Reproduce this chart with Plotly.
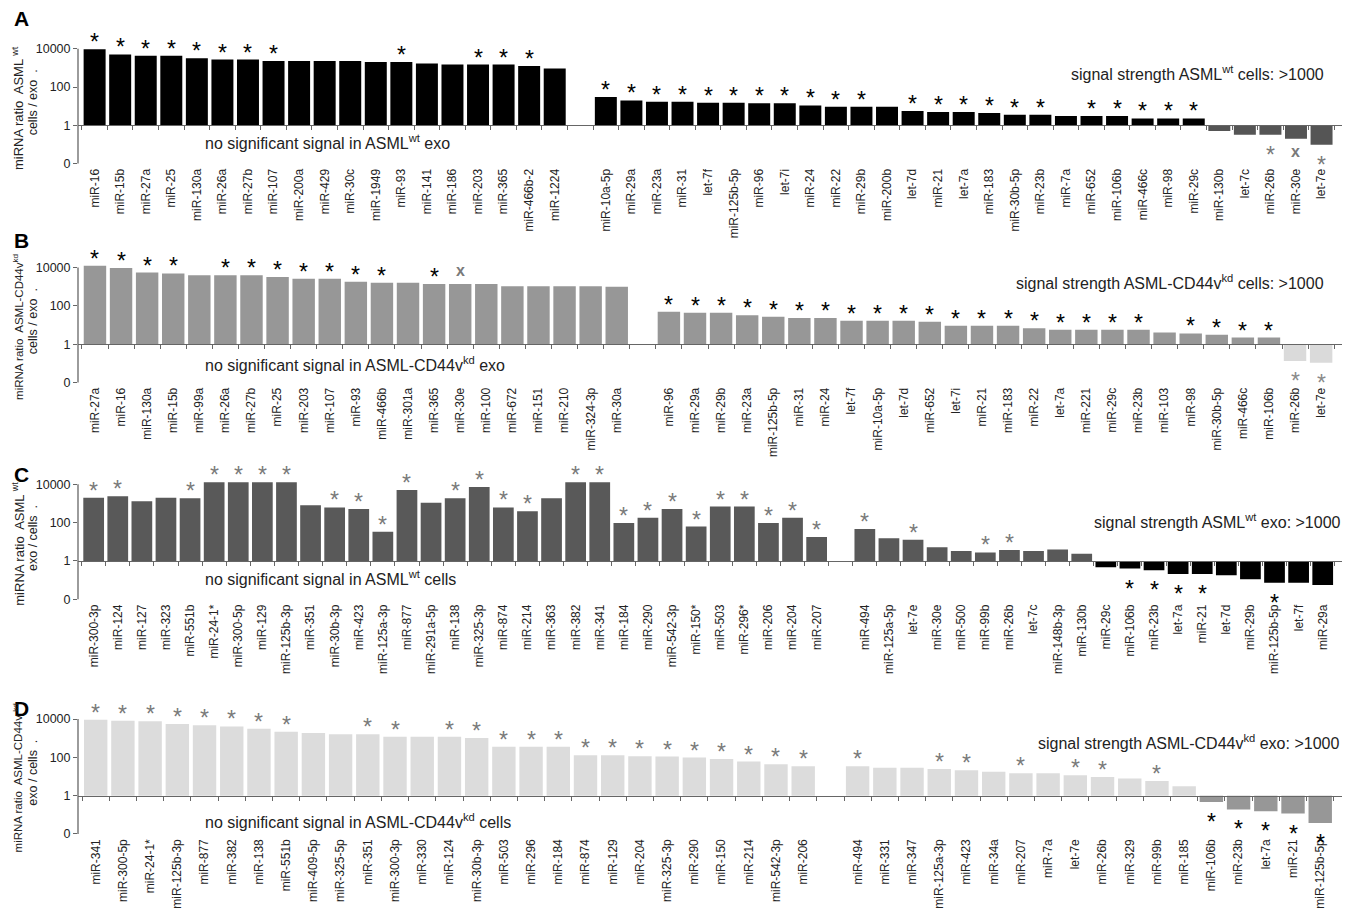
import numpy as np
import plotly.graph_objects as go

# ---------------- data: miRNA ratios (linear), marks per miRNA ----------------
# Panel A: ASML-wt cells / exo
A_left_labels = ["miR-16", "miR-15b", "miR-27a", "miR-25", "miR-130a", "miR-26a", "miR-27b",
                 "miR-107", "miR-200a", "miR-429", "miR-30c", "miR-1949", "miR-93", "miR-141",
                 "miR-186", "miR-203", "miR-365", "miR-466b-2", "miR-1224"]
A_left_ratio = [9300, 5000, 4300, 4300, 3200, 2700, 2700, 2300, 2300, 2300, 2300, 2000, 2000,
                1700, 1500, 1500, 1500, 1250, 930]
A_left_marks = ["*", "*", "*", "*", "*", "*", "*", "*", "", "", "", "", "*", "", "", "*", "*", "*", ""]
A_right_labels = ["miR-10a-5p", "miR-29a", "miR-23a", "miR-31", "let-7f", "miR-125b-5p", "miR-96",
                  "let-7i", "miR-24", "miR-22", "miR-29b", "miR-200b", "let-7d", "miR-21", "let-7a",
                  "miR-183", "miR-30b-5p", "miR-23b", "miR-7a", "miR-652", "miR-106b", "miR-466c",
                  "miR-98", "miR-29c", "miR-130b", "let-7c", "miR-26b", "miR-30e", "let-7e"]
A_right_ratio = [30, 20, 17, 17, 15, 15, 14, 14, 11, 9.3, 9.3, 9.3, 5.6, 5.0, 5.0, 4.4, 3.6, 3.6,
                 3.1, 3.1, 3.1, 2.3, 2.3, 2.3, 0.5, 0.32, 0.32, 0.2, 0.098]
A_right_marks = ["*", "*", "*", "*", "*", "*", "*", "*", "*", "*", "*", "", "*", "*", "*", "*", "*",
                 "*", "", "*", "*", "*", "*", "*", "", "", "*", "x", "*"]

# Panel B: ASML-CD44v-kd cells / exo
B_left_labels = ["miR-27a", "miR-16", "miR-130a", "miR-15b", "miR-99a", "miR-26a", "miR-27b",
                 "miR-25", "miR-203", "miR-107", "miR-93", "miR-466b", "miR-301a", "miR-365",
                 "miR-30e", "miR-100", "miR-672", "miR-151", "miR-210", "miR-324-3p", "miR-30a"]
B_left_ratio = [12300, 9500, 5500, 4900, 4000, 4000, 4000, 3200, 2600, 2600, 1800, 1600, 1600,
                1400, 1400, 1400, 1070, 1070, 1070, 1070, 1000]
B_left_marks = ["*", "*", "*", "*", "", "*", "*", "*", "*", "*", "*", "*", "", "*", "x", "", "", "",
                "", "", ""]
B_right_labels = ["miR-96", "miR-29a", "miR-29b", "miR-23a", "miR-125b-5p", "miR-31", "miR-24",
                  "let-7f", "miR-10a-5p", "let-7d", "miR-652", "let-7i", "miR-21", "miR-183",
                  "miR-22", "let-7a", "miR-221", "miR-29c", "miR-23b", "miR-103", "miR-98",
                  "miR-30b-5p", "miR-466c", "miR-106b", "miR-26b", "let-7e"]
B_right_ratio = [49, 43, 43, 32, 27, 23, 23, 16.6, 16.6, 16.6, 14.8, 9.1, 9.1, 9.1, 6.8, 5.6, 5.6,
                 5.6, 5.6, 4.1, 3.6, 3.1, 2.2, 2.2, 0.13, 0.107]
B_right_marks = ["*", "*", "*", "*", "*", "*", "*", "*", "*", "*", "*", "*", "*", "*", "*", "*", "*",
                 "*", "*", "", "*", "*", "*", "*", "*", "*"]

# Panel C: ASML-wt exo / cells
C_left_labels = ["miR-300-3p", "miR-124", "miR-127", "miR-323", "miR-551b", "miR-24-1*",
                 "miR-300-5p", "miR-129", "miR-125b-3p", "miR-351", "miR-30b-3p", "miR-423",
                 "miR-125a-3p", "miR-877", "miR-291a-5p", "miR-138", "miR-325-3p", "miR-874",
                 "miR-214", "miR-363", "miR-382", "miR-341", "miR-184", "miR-290", "miR-542-3p",
                 "miR-150*", "miR-503", "miR-296*", "miR-206", "miR-204", "miR-207"]
C_left_ratio = [2000, 2400, 1300, 2000, 1900, 13000, 13000, 13000, 13000, 800, 620, 510, 33, 5100,
                1100, 1900, 7200, 620, 390, 1900, 13000, 13000, 95, 180, 510, 62, 690, 690, 95,
                180, 18]
C_left_marks = ["*", "*", "", "", "*", "*", "*", "*", "*", "", "*", "*", "*", "*", "", "*", "*", "*",
                "*", "", "*", "*", "*", "*", "*", "*", "*", "*", "*", "*", "*"]
C_right_labels = ["miR-494", "miR-125a-5p", "let-7e", "miR-30e", "miR-500", "miR-99b", "miR-26b",
                  "let-7c", "miR-148b-3p", "miR-130b", "miR-29c", "miR-106b", "miR-23b", "let-7a",
                  "miR-21", "let-7d", "miR-29b", "miR-125b-5p", "let-7f", "miR-29a"]
C_right_ratio = [47, 15.5, 12.6, 5.2, 3.3, 2.8, 3.7, 3.3, 3.9, 2.4, 0.47, 0.40, 0.33, 0.21, 0.21,
                 0.18, 0.11, 0.072, 0.072, 0.055]
C_right_marks = ["*", "", "*", "", "", "*", "*", "", "", "", "", "*", "*", "*", "*", "", "", "*", "",
                 ""]

# Panel D: ASML-CD44v-kd exo / cells
D_left_labels = ["miR-341", "miR-300-5p", "miR-24-1*", "miR-125b-3p", "miR-877", "miR-382",
                 "miR-138", "miR-551b", "miR-409-5p", "miR-325-5p", "miR-351", "miR-300-3p",
                 "miR-330", "miR-124", "miR-30b-3p", "miR-503", "miR-296", "miR-184", "miR-874",
                 "miR-129", "miR-204", "miR-325-3p", "miR-290", "miR-150", "miR-214",
                 "miR-542-3p", "miR-206"]
D_left_ratio = [9100, 8100, 7600, 5600, 4800, 4100, 3100, 2200, 1900, 1600, 1600, 1200, 1200, 1200,
                1020, 360, 360, 360, 129, 129, 115, 110, 98, 83, 60, 44, 34]
D_left_marks = ["*", "*", "*", "*", "*", "*", "*", "*", "", "", "*", "*", "", "*", "*", "*", "*", "*",
                "*", "*", "*", "*", "*", "*", "*", "*", "*"]
D_right_labels = ["miR-494", "miR-331", "miR-347", "miR-125a-3p", "miR-423", "miR-34a", "miR-207",
                  "miR-7a", "let-7e", "miR-26b", "miR-329", "miR-99b", "miR-185", "miR-106b",
                  "miR-23b", "let-7a", "miR-21", "miR-125b-5p"]
D_right_ratio = [34, 29, 29, 25, 21, 18, 15, 15, 11.5, 9.3, 7.9, 5.8, 3.1, 0.47, 0.19, 0.155,
                 0.117, 0.037]
D_right_marks = ["*", "", "", "*", "*", "", "*", "", "*", "*", "", "*", "", "*", "*", "*", "*", "*"]

# y tick labels (the bottom "0" marks the floor of the scale)
tick_text = ["0", "1", "100", "10000"]

# ---------------- styling / layout ----------------
W, H = 1346, 922
FONT = "Liberation Sans, Arial, sans-serif"
PX_PER_DEC = 19.25
Y_MIN, Y_MAX = -2.1, 5.0
X0_PX, X1_PX = 78, 1342
TEXT_COL = "#222222"
X_MARK_COL = "#7a7a7a"

panels = [
    dict(letter="A", zero_px=126, letter_px=19,
         left=(A_left_labels, A_left_ratio, A_left_marks),
         right=(A_right_labels, A_right_ratio, A_right_marks),
         pos_color="#000000", neg_color="#555555", pos_mark="#000000", neg_mark="#7a7a7a",
         ytitle=("miRNA ratio  ASML <sup>wt</sup>", "cells / exo  ."), ysize=13,
         low_text="no significant signal in ASML<sup>wt</sup> exo", low_y=-0.85,
         high_text="signal strength ASML<sup>wt</sup> cells: >1000", high_xy=(1326, 2.75)),
    dict(letter="B", zero_px=346, letter_px=242,
         left=(B_left_labels, B_left_ratio, B_left_marks),
         right=(B_right_labels, B_right_ratio, B_right_marks),
         pos_color="#979797", neg_color="#dadada", pos_mark="#000000", neg_mark="#8a8a8a",
         ytitle=("miRNA ratio  ASML-CD44v<sup>kd</sup>", "cells / exo  ."), ysize=11.5,
         low_text="no significant signal in ASML-CD44v<sup>kd</sup> exo", low_y=-1.05,
         high_text="signal strength ASML-CD44v<sup>kd</sup> cells: >1000", high_xy=(1326, 3.27)),
    dict(letter="C", zero_px=564, letter_px=477,
         left=(C_left_labels, C_left_ratio, C_left_marks),
         right=(C_right_labels, C_right_ratio, C_right_marks),
         pos_color="#595959", neg_color="#000000", pos_mark="#7a7a7a", neg_mark="#000000",
         ytitle=("miRNA ratio  ASML <sup>wt</sup>", "exo / cells  ."), ysize=13,
         low_text="no significant signal in ASML<sup>wt</sup> cells", low_y=-0.9,
         high_text="signal strength ASML<sup>wt</sup> exo: >1000", high_xy=(1343, 2.1)),
    dict(letter="D", zero_px=800, letter_px=712,
         left=(D_left_labels, D_left_ratio, D_left_marks),
         right=(D_right_labels, D_right_ratio, D_right_marks),
         pos_color="#dcdcdc", neg_color="#979797", pos_mark="#7a7a7a", neg_mark="#000000",
         ytitle=("miRNA ratio  ASML-CD44v <sup>kd</sup>", "exo / cells  ."), ysize=11.5,
         low_text="no significant signal in ASML-CD44v<sup>kd</sup> cells", low_y=-1.3,
         high_text="signal strength ASML-CD44v<sup>kd</sup> exo: >1000", high_xy=(1341, 2.8)),
]

fig = go.Figure()
layout = dict(
    width=W, height=H, margin=dict(l=0, r=0, t=0, b=0),
    paper_bgcolor="white", plot_bgcolor="white",
    showlegend=False, bargap=0.14,
    font=dict(family=FONT, color="#111111"),
)
annotations = []
shapes = []

GAP = " "  # empty slot separating the two groups


def ax_id(letter, k):
    return letter if k == 1 else f"{letter}{k}"


# pixel offsets of the significance marks from the bar end (text-box centre)
STAR_SHIFT_UP, STAR_SHIFT_DOWN = 7, -20
X_SHIFT = 13

for i, p in enumerate(panels):
    n = i + 1
    xa, ya = ax_id("x", n), ax_id("y", n)
    xb = ax_id("x", n + 4)  # overlay axis that draws the ratio = 1 baseline
    xkey, ykey = ax_id("xaxis", n), ax_id("yaxis", n)
    xbkey = ax_id("xaxis", n + 4)
    ll, lr, lm = p["left"]
    rl, rr, rm = p["right"]
    cats = list(ll) + [GAP] + list(rl)
    ratios = list(lr) + list(rr)
    labels = list(ll) + list(rl)
    marks = list(lm) + list(rm)
    logv = np.log10(np.array(ratios, dtype=float))

    colors = [p["pos_color"] if v >= 0 else p["neg_color"] for v in logv]
    fig.add_trace(go.Bar(x=labels, y=logv, base=0, marker=dict(color=colors, line=dict(width=0)),
                         xaxis=xa, yaxis=ya, hoverinfo="x+text",
                         hovertext=[f"{r:g}" for r in ratios]))

    # significance marks anchored at each bar's end: above positive, below negative bars
    for lab, v, m in zip(labels, logv, marks):
        if not m:
            continue
        up = v >= 0
        if m == "*":
            txt = "*"
            col = p["pos_mark"] if up else p["neg_mark"]
            size = 23
            shift = STAR_SHIFT_UP if up else STAR_SHIFT_DOWN
        else:
            txt = "<b>x</b>"
            col = X_MARK_COL
            size = 16
            shift = X_SHIFT if up else -X_SHIFT
        annotations.append(dict(text=txt, xref=xa, yref=ya, x=lab, y=float(v), yshift=shift,
                                xanchor="center", yanchor="middle", showarrow=False,
                                font=dict(family=FONT, size=size, color=col)))

    # invisible trace to give the baseline axis its categories
    fig.add_trace(go.Scatter(x=cats, y=[0] * len(cats), mode="markers",
                             marker=dict(opacity=0, size=1), xaxis=xb, yaxis=ya,
                             hoverinfo="skip"))

    z = p["zero_px"]
    top_px = z - Y_MAX * PX_PER_DEC
    bot_px = z - Y_MIN * PX_PER_DEC
    dom_y = [1 - bot_px / H, 1 - top_px / H]
    dom_x = [X0_PX / W, X1_PX / W]
    xr = [-0.65, len(cats) - 0.2]
    zero_paper = 1 - z / H

    layout[xkey] = dict(
        domain=dom_x, anchor=ya, type="category", categoryorder="array", categoryarray=cats,
        range=xr, tickangle=-90, ticks="", showline=False, showgrid=False, zeroline=False,
        tickfont=dict(family=FONT, size=12, color=TEXT_COL), fixedrange=True)
    layout[xbkey] = dict(
        overlaying=xa, anchor="free", position=zero_paper, type="category",
        categoryorder="array", categoryarray=cats, range=xr, showline=True,
        linecolor="#666666", linewidth=1.3, ticks="outside", ticklen=4, tickcolor="#666666",
        tickson="boundaries", showticklabels=False, showgrid=False, zeroline=False,
        fixedrange=True)
    layout[ykey] = dict(
        domain=dom_y, anchor=xa, range=[Y_MIN, Y_MAX], tickvals=[-2, 0, 2, 4],
        ticktext=tick_text, ticks="outside", ticklen=4, tickcolor="#666666",
        tickfont=dict(family=FONT, size=12.5, color=TEXT_COL), showline=False,
        showgrid=False, zeroline=False, fixedrange=True)

    # vertical axis line from the floor to the 10000 tick
    shapes.append(dict(type="line", xref=f"{xa} domain", yref=ya, x0=0, x1=0, y0=-2, y1=4,
                       line=dict(color="#666666", width=1.3)))

    # panel letter
    annotations.append(dict(text=f"<b>{p['letter']}</b>", xref="paper", yref="paper",
                            x=12 / W, y=1 - p["letter_px"] / H, xanchor="left", yanchor="middle",
                            showarrow=False, font=dict(family=FONT, size=21, color="#000000")))
    # y-axis title, two rotated lines
    t1, t2 = p["ytitle"]
    annotations.append(dict(text=t1, xref="paper", yref=ya, x=18 / W, y=0.9,
                            xanchor="center", yanchor="middle", textangle=-90, showarrow=False,
                            font=dict(family=FONT, size=p["ysize"], color=TEXT_COL)))
    annotations.append(dict(text=t2, xref="paper", yref=ya, x=33 / W, y=1.2,
                            xanchor="center", yanchor="middle", textangle=-90, showarrow=False,
                            font=dict(family=FONT, size=12.5, color=TEXT_COL)))
    # group captions
    annotations.append(dict(text=p["low_text"], xref="paper", yref=ya, x=203 / W, y=p["low_y"],
                            xanchor="left", yanchor="middle", showarrow=False,
                            font=dict(family=FONT, size=16, color=TEXT_COL)))
    hx, hy = p["high_xy"]
    annotations.append(dict(text=p["high_text"], xref="paper", yref=ya, x=hx / W, y=hy,
                            xanchor="right", yanchor="middle", showarrow=False,
                            font=dict(family=FONT, size=16, color=TEXT_COL)))

layout["annotations"] = annotations
layout["shapes"] = shapes
fig.update_layout(**layout)
fig.write_html("out.html")
